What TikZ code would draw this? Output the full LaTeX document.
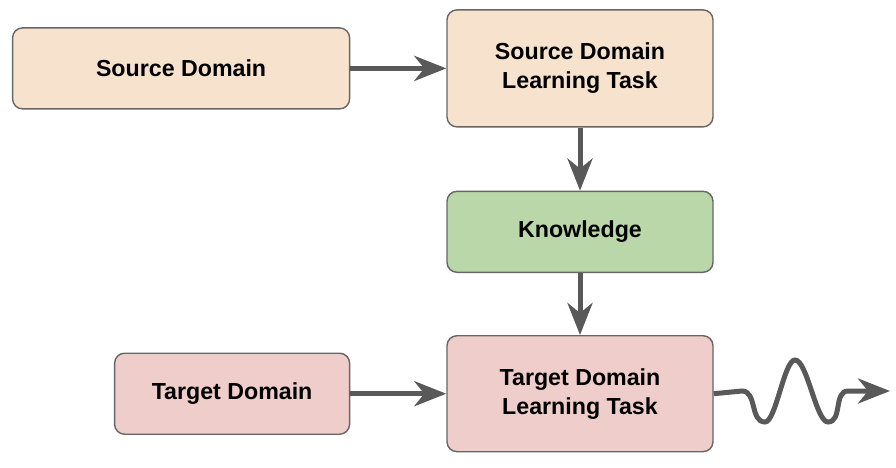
\documentclass[tikz,border=0pt]{standalone}
\usepackage{fontspec}
\setmainfont{Liberation Sans}
\usepackage{xcolor}
\usepackage{tikz}
\usetikzlibrary{positioning, arrows.meta}
\definecolor{srcfill}{HTML}{F7E3CD}
\definecolor{knowfill}{HTML}{B9D7A9}
\definecolor{tgtfill}{HTML}{EFCDCB}
\definecolor{boxline}{HTML}{666666}
\definecolor{arrowgray}{HTML}{595959}

\begin{document}
\begin{tikzpicture}[node distance=2.4cm,
    font=\bfseries\fontsize{16.5}{20.5}\selectfont,
    box/.style={draw=boxline, line width=1pt, rounded corners=0.25cm, text centered, align=center, minimum height=2.025cm},
    flow/.style={-{Stealth[length=0.8cm, width=0.625cm, inset=0.25cm]}, line width=0.125cm, draw=arrowgray}]
    \useasboundingbox (0,0) rectangle (22.4,-11.7);

    \node (sdlt) [box, fill=srcfill, minimum width=6.65cm, minimum height=2.925cm] at (14.5,-1.71) {Source Domain\\Learning Task};
    \node (sd) [box, fill=srcfill, minimum width=8.425cm, left=of sdlt] {Source Domain};
    \node (know) [box, fill=knowfill, minimum width=6.65cm, below=1.575cm of sdlt] {Knowledge};
    \node (tdlt) [box, fill=tgtfill, minimum width=6.65cm, minimum height=2.9cm, below=1.55cm of know] {Target Domain\\Learning Task};
    \node (td) [box, fill=tgtfill, minimum width=5.875cm, left=of tdlt] {Target Domain};
    \coordinate (out) at (22.25,-9.775);

    \draw [flow] (sd) -- (sdlt);
    \draw [flow] (sdlt) -- (know);
    \draw [flow] (know) -- (tdlt);
    \draw [flow] (td) -- (tdlt);
    % wavy output
    \draw [flow] (tdlt.east) -- (18.55,-9.775)
        to[out=0, in=180] (19.125,-10.55)
        cos (19.5,-9.775) sin (19.875,-9.0)
        cos (20.29,-9.775) sin (20.7,-10.55)
        to[out=0, in=180] (21.2,-9.775) -- (out);
\end{tikzpicture}
\end{document}
